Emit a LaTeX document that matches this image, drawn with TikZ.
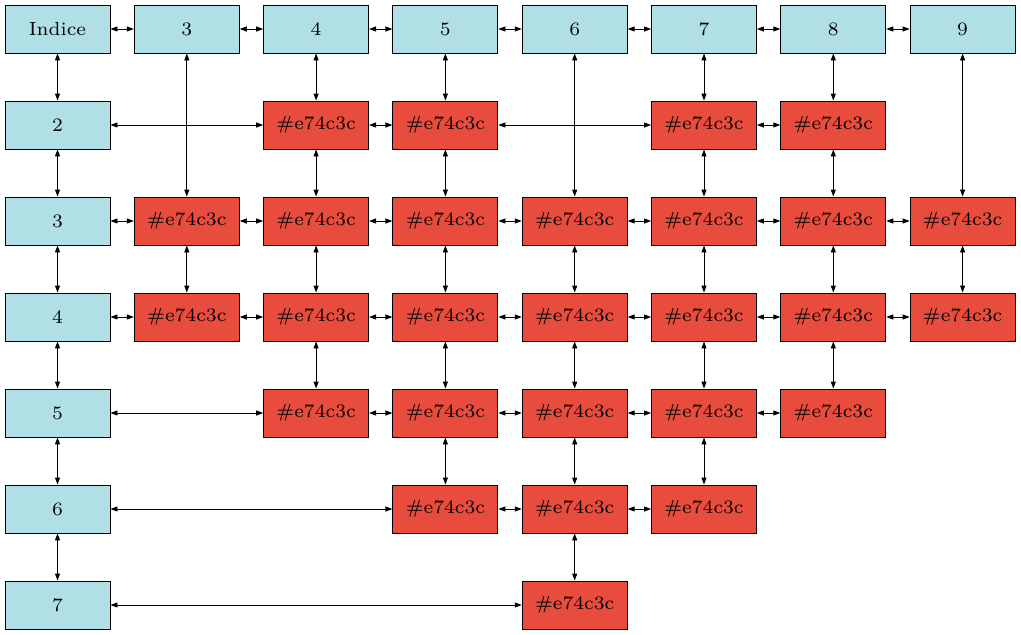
\documentclass[tikz,border=0pt]{standalone}
\usepackage{fontspec}
\newfontfamily\boxfont{lmroman7-regular.otf}
\usetikzlibrary{arrows.meta}
\definecolor{hdr}{HTML}{B0E0E6}
\definecolor{cell}{HTML}{E74C3C}
\begin{document}
\begin{tikzpicture}[x=1pt,y=-1pt,
  box/.style={draw=black,line width=0.9pt,minimum width=105pt,minimum height=48pt,inner sep=0pt,font=\boxfont\fontsize{19}{23}\selectfont,anchor=center},
  hbox/.style={box,fill=hdr},
  rbox/.style={box,fill=cell},
  lnk/.style={line width=0.9pt,{Triangle[length=7pt,width=5pt]}-{Triangle[length=7pt,width=5pt]}}]
\useasboundingbox (0,0) rectangle (1021,635);
\def\cx#1{57.5+129.3*#1}
\def\ry#1{29+96*#1}
% header row
\node[hbox] (n00) at ({\cx{0}},{\ry{0}}) {Indice};
\foreach \c/\t in {1/3,2/4,3/5,4/6,5/7,6/8,7/9}
  \node[hbox] (n0\c) at ({\cx{\c}},{\ry{0}}) {\t};
% row labels
\foreach \r/\t in {1/2,2/3,3/4,4/5,5/6,6/7}
  \node[hbox] (n\r0) at ({\cx{0}},{\ry{\r}}) {\t};
% cells
\foreach \r/\c in {1/2,1/3,1/5,1/6,
  2/1,2/2,2/3,2/4,2/5,2/6,2/7,
  3/1,3/2,3/3,3/4,3/5,3/6,3/7,
  4/2,4/3,4/4,4/5,4/6,
  5/3,5/4,5/5,
  6/4}
  \node[rbox] (n\r\c) at ({\cx{\c}},{\ry{\r}}) {\#e74c3c};
% horizontal links
\foreach \r/\a/\b in {0/0/1,0/1/2,0/2/3,0/3/4,0/4/5,0/5/6,0/6/7,
  1/0/2,1/2/3,1/3/5,1/5/6,
  2/0/1,2/1/2,2/2/3,2/3/4,2/4/5,2/5/6,2/6/7,
  3/0/1,3/1/2,3/2/3,3/3/4,3/4/5,3/5/6,3/6/7,
  4/0/2,4/2/3,4/3/4,4/4/5,4/5/6,
  5/0/3,5/3/4,5/4/5,
  6/0/4}
  \draw[lnk] (n\r\a.east) -- (n\r\b.west);
% vertical links
\foreach \c/\a/\b in {0/0/1,0/1/2,0/2/3,0/3/4,0/4/5,0/5/6,
  1/0/2,1/2/3,
  2/0/1,2/1/2,2/2/3,2/3/4,
  3/0/1,3/1/2,3/2/3,3/3/4,3/4/5,
  4/0/2,4/2/3,4/3/4,4/4/5,4/5/6,
  5/0/1,5/1/2,5/2/3,5/3/4,5/4/5,
  6/0/1,6/1/2,6/2/3,6/3/4,
  7/0/2,7/2/3}
  \draw[lnk] (n\a\c.south) -- (n\b\c.north);
\end{tikzpicture}
\end{document}
